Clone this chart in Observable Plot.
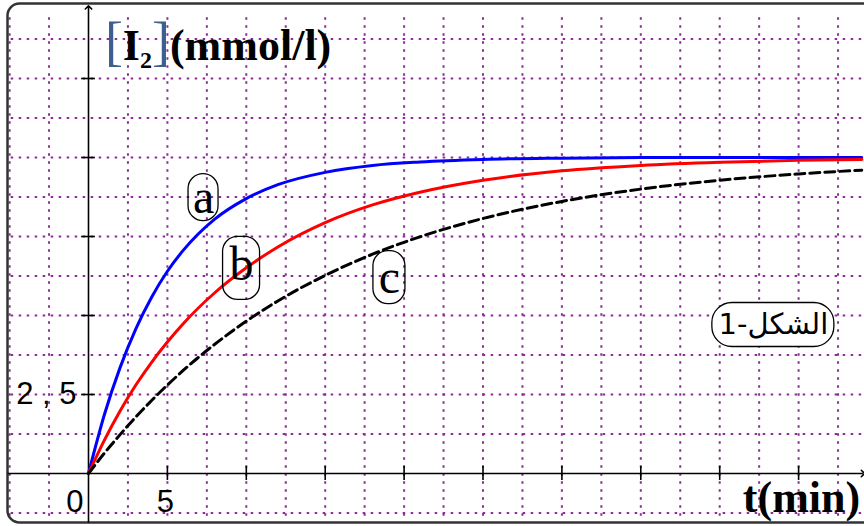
<!DOCTYPE html>
<html><head><meta charset="utf-8">
<script src="https://cdn.jsdelivr.net/npm/d3@7"></script>
<script src="https://cdn.jsdelivr.net/npm/@observablehq/plot@0.6"></script>
<style>html,body{margin:0;padding:0;background:#fff;overflow:hidden} svg{display:block}</style>
</head><body><div id="chart"></div>
<script>
// time (min)
const times = [0, 1, 2, 3, 4, 5, 6, 8, 10, 12, 15, 18, 21, 25, 30, 35, 40, 45, 49];
// [I2] (mmol/l) for curves a, b, c
const concA = [0, 1.85, 3.35, 4.58, 5.58, 6.40, 7.06, 8.05, 8.70, 9.14, 9.53, 9.75, 9.86, 9.94, 9.98, 10, 10, 10, 10];
const concB = [0, 1.05, 1.98, 2.80, 3.52, 4.16, 4.74, 5.72, 6.51, 7.17, 7.94, 8.50, 8.90, 9.28, 9.58, 9.75, 9.85, 9.91, 9.94];
const concC = [0, 0.64, 1.23, 1.79, 2.31, 2.80, 3.26, 4.09, 4.82, 5.46, 6.27, 6.94, 7.49, 8.07, 8.61, 9.00, 9.28, 9.48, 9.60];
const curveNames = ["a", "b", "c"];
// axis ticks
const xTicks = [5, 10, 15, 20, 25, 30, 35, 40, 45];
const yTicks = [2.5, 5, 7.5, 10, 12.5];
const xTickLabelValues = [0, 5];
const xTickLabels = ["0", "5"];
const yTickLabelValues = [2.5];
const yTickLabels = ["2 , 5"];
// grid
const xGrid = [-5, -2.5, 2.5, 5, 7.5, 10, 12.5, 15, 17.5, 20, 22.5, 25, 27.5, 30, 32.5, 35, 37.5, 40, 42.5, 45, 47.5];
const yGrid = [-1.25, 1.25, 2.5, 3.75, 5, 6.25, 7.5, 8.75, 10, 11.25, 12.5, 13.75];
// annotations (data units)
const curveLabelT = [7.29, 9.70, 19.07];
const curveLabelC = [8.73, 6.49, 6.20];
const figureText = "الشكل-1";
const figureT = 43.4, figureC = 4.70;
const yTitleParts = ["[", "I", "2", "]", "(mmol/l)"];
const yTitleT = 1.07, yTitleC = 13.07;
const xTitle = "t(min)";
const xTitleT = 41.5, xTitleC = -1.24;

const colors = {a: "#0000ff", b: "#ff0000", c: "#000000"};
const curves = [concA, concB, concC];
const series = curveNames.flatMap((n, k) => times.map((t, i) => ({name: n, t, c: curves[k][i]})));
const labels = curveNames.map((n, k) => ({name: n, t: curveLabelT[k], c: curveLabelC[k]}));

const pxPerMin = 15.78, pxPerUnit = 31.6;
const W = 864, H = 526, x0 = 88, y0 = 473;
const xDomain = [-x0 / pxPerMin, (W - x0) / pxPerMin];
const yDomain = [-(H - y0) / pxPerUnit, y0 / pxPerUnit];

const gridColor = "#8e2a96";
const boxSizes = {a: [30, 47], b: [37, 63], c: [32, 53]};
const textDy = {a: 0, b: -4, c: 0};

const plot = Plot.plot({
  width: W, height: H,
  marginTop: 0, marginRight: 0, marginBottom: 0, marginLeft: 0,
  x: {domain: xDomain, axis: null},
  y: {domain: yDomain, axis: null},
  style: {background: "#fff"},
  marks: [
    Plot.ruleX(xGrid, {y1: -1.35, y2: 14.6, stroke: gridColor, strokeWidth: 2, strokeDasharray: "2.5,5.5"}),
    Plot.ruleY(yGrid, {x1: -4.9, x2: xDomain[1], stroke: gridColor, strokeWidth: 2, strokeDasharray: "2.5,5.5"}),
    Plot.frame({stroke: "#333", strokeWidth: 2.5, rx: 12, insetLeft: 7, insetTop: 3, insetBottom: 4, insetRight: -30}),
    // axes
    Plot.link([0], {x1: xDomain[0] + 0.45, x2: xDomain[1] - 0.1, y1: 0, y2: 0, stroke: "#000", strokeWidth: 1.6, markerEnd: "arrow"}),
    Plot.link([0], {x1: 0, x2: 0, y1: yDomain[0] + 0.12, y2: yDomain[1] - 0.22, stroke: "#000", strokeWidth: 1.6, markerEnd: "arrow"}),
    Plot.ruleX(xTicks, {y1: -0.22, y2: 0.22, stroke: "#000", strokeWidth: 1.6}),
    Plot.ruleY(yTicks, {x1: -0.44, x2: 0.44, stroke: "#000", strokeWidth: 1.6}),
    Plot.text([0], {x: xTickLabelValues[0], y: 0, text: [xTickLabels[0]], textAnchor: "end", dx: -5, dy: 29, fontFamily: "Liberation Sans", fontSize: 31, fill: "#000"}),
    Plot.text([0], {x: xTickLabelValues[1], y: 0, text: [xTickLabels[1]], textAnchor: "middle", dx: -2, dy: 29, fontFamily: "Liberation Sans", fontSize: 31, fill: "#000"}),
    Plot.text([0], {x: 0, y: yTickLabelValues[0], text: [yTickLabels[0]], textAnchor: "end", dx: -12, dy: 0, fontFamily: "Liberation Sans", fontSize: 31, fill: "#000"}),
    // curves
    Plot.line(series.filter(d => d.name === "a"), {x: "t", y: "c", stroke: colors.a, strokeWidth: 3, curve: "monotone-x"}),
    Plot.line(series.filter(d => d.name === "b"), {x: "t", y: "c", stroke: colors.b, strokeWidth: 3, curve: "monotone-x"}),
    Plot.line(series.filter(d => d.name === "c"), {x: "t", y: "c", stroke: colors.c, strokeWidth: 3, curve: "monotone-x", strokeDasharray: "10,5"}),
    // curve labels
    ...labels.map(l => Plot.rect([l], {x1: "t", x2: "t", y1: "c", y2: "c",
      insetLeft: -boxSizes[l.name][0] / 2, insetRight: -boxSizes[l.name][0] / 2,
      insetTop: -boxSizes[l.name][1] / 2, insetBottom: -boxSizes[l.name][1] / 2,
      rx: 15, fill: "none", stroke: "#000", strokeWidth: 1.3})),
    ...labels.map(l => Plot.text([l], {x: "t", y: "c", text: "name", dy: textDy[l.name], lineAnchor: "middle",
      fontFamily: "Liberation Serif", fontSize: 48, fill: "#000"})),
    // figure label
    Plot.rect([0], {x1: figureT, x2: figureT, y1: figureC, y2: figureC,
      insetLeft: -61, insetRight: -61, insetTop: -22, insetBottom: -22, rx: 20,
      fill: "#fff", stroke: "#000", strokeWidth: 1.3}),
    Plot.text([0], {x: figureT, y: figureC, text: [figureText], lineAnchor: "middle",
      fontFamily: "DejaVu Sans", fontSize: 29, fill: "#000"})
  ]
});

// axis titles with rich text, placed through the plot's scales
const sx = plot.scale("x"), sy = plot.scale("y");
const svg = d3.select(plot);
const title = svg.append("text")
  .attr("x", sx.apply(yTitleT)).attr("y", sy.apply(yTitleC)).attr("text-anchor", "start")
  .attr("font-family", "Liberation Serif").attr("font-weight", "bold").attr("font-size", 44).attr("fill", "#000");
title.append("tspan").attr("font-weight", "normal").attr("font-size", 54).attr("fill", "#3d5f8f").text(yTitleParts[0]);
title.append("tspan").text(yTitleParts[1]);
title.append("tspan").attr("font-size", 24).attr("dy", 8).text(yTitleParts[2]);
title.append("tspan").attr("font-weight", "normal").attr("font-size", 54).attr("dy", -8).attr("fill", "#3d5f8f").text(yTitleParts[3]);
title.append("tspan").text(yTitleParts[4]);
svg.append("text")
  .attr("x", sx.apply(xTitleT)).attr("y", sy.apply(xTitleC)).attr("text-anchor", "start")
  .attr("font-family", "Liberation Serif").attr("font-weight", "bold").attr("font-size", 44).attr("fill", "#000")
  .text(xTitle);

document.getElementById("chart").append(plot);
</script>
</body></html>
